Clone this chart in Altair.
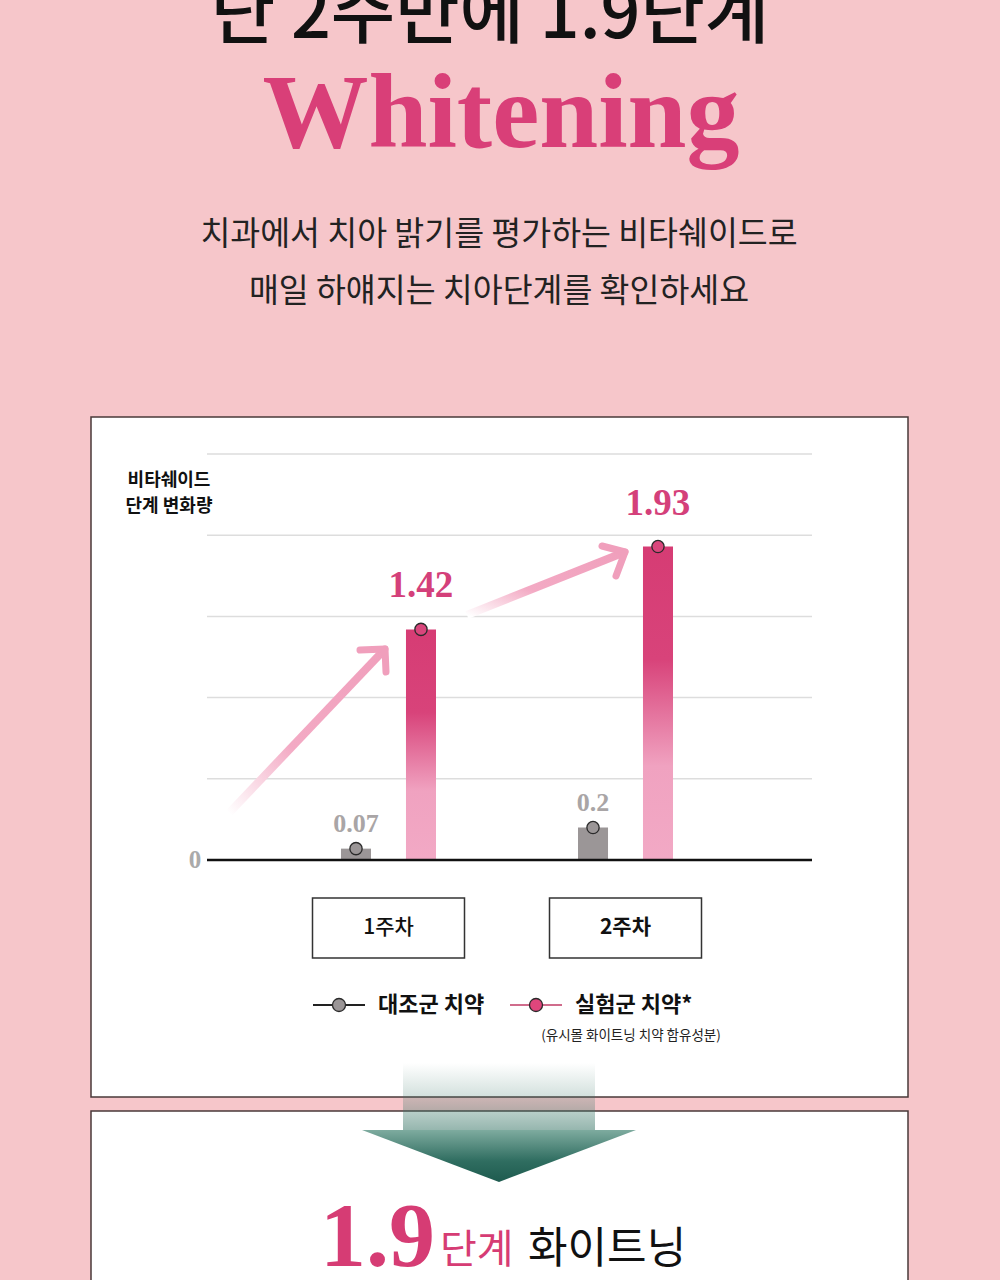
import altair as alt
import pandas as pd

# ---------------- data ----------------
weeks = ["1주차", "2주차"]
groups = ["대조군 치약", "실험군 치약"]
control_vals = [0.07, 0.2]
test_vals = [1.42, 1.93]
control_labels = ["0.07", "0.2"]
test_labels = ["1.42", "1.93"]
grid_vals = [0.5, 1.0, 1.5, 2.0, 2.5]
zero_val = [0]

title_top = "단 2주만에 1.9단계"
title_main = "Whitening"
sub_lines = ["치과에서 치아 밝기를 평가하는 비타쉐이드로", "매일 하얘지는 치아단계를 확인하세요"]
y_title = ["비타쉐이드", "단계 변화량"]
legend_note = "(유시몰 화이트닝 치약 함유성분)"
bottom_num = "1.9"
bottom_unit = "단계"
bottom_word = "화이트닝"

BG = "#f6c6ca"
PINK = "#d63c74"
KR = "Noto Sans CJK KR"
SERIF = "Liberation Serif"

bars = pd.DataFrame({
    "week": weeks * 2,
    "group": [groups[0]] * 2 + [groups[1]] * 2,
    "value": control_vals + test_vals,
    "label": control_labels + test_labels,
})
ctrl = bars[bars.group == groups[0]]
test = bars[bars.group == groups[1]]

yscale = alt.Scale(domain=[0, 2.5], range=[860, 454], nice=False)
xscale = alt.Scale(domain=weeks, range=[270, 744], paddingInner=0, paddingOuter=0)
xoff = alt.Scale(domain=groups, range=[71, 166], paddingInner=0.538, paddingOuter=0)

X = alt.X("week:N", scale=xscale, axis=None)
XO = alt.XOffset("group:N", scale=xoff)
Y = alt.Y("value:Q", scale=yscale, axis=None)

one = pd.DataFrame({"a": [0]})


def txt(text, x, y, **kw):
    return alt.Chart(pd.DataFrame({"t": [text]})).mark_text(**kw).encode(
        text="t:N", x=alt.value(x), y=alt.value(y))


def rect(x, x2, y, y2, **kw):
    return alt.Chart(one).mark_rect(**kw).encode(
        x=alt.value(x), x2=alt.value(x2), y=alt.value(y), y2=alt.value(y2))


def rule(x, y, x2, y2, **kw):
    return alt.Chart(one).mark_rule(**kw).encode(
        x=alt.value(x), x2=alt.value(x2), y=alt.value(y), y2=alt.value(y2))


def dot(x, y, **kw):
    return alt.Chart(one).mark_circle(**kw).encode(x=alt.value(x), y=alt.value(y))


layers = []

# header texts
layers.append(txt(title_top, 490, 38, font=KR, fontSize=70, fontWeight=500, color="#111111",
                  align="center", baseline="alphabetic"))
layers.append(txt(title_main, 501, 147, font=SERIF, fontSize=106, fontWeight="bold", color="#d93f78",
                  align="center", baseline="alphabetic"))
layers.append(txt(sub_lines[0], 499, 245, font=KR, fontSize=32.5, fontWeight=400, color="#222222",
                  align="center", baseline="alphabetic"))
layers.append(txt(sub_lines[1], 499, 302, font=KR, fontSize=32.5, fontWeight=400, color="#222222",
                  align="center", baseline="alphabetic"))

# panels
BORDER = "#4a3a3a"
layers.append(rect(91, 908, 417, 1097, fill="white", stroke=BORDER, strokeWidth=1.5))
layers.append(rect(91, 908, 1111, 1300, fill="white", stroke=BORDER, strokeWidth=1.5))

# grid lines
layers.append(alt.Chart(pd.DataFrame({"value": grid_vals})).mark_rule(
    color="#dddddd", strokeWidth=1.5).encode(y=Y, x=alt.value(207), x2=alt.value(812)))

# arrows
shaft_grad = alt.LinearGradient(
    gradient="linear",
    stops=[alt.GradientStop(color="#ffffff", offset=0),
           alt.GradientStop(color="#f3aac4", offset=0.4),
           alt.GradientStop(color="#f09fbc", offset=1)],
    x1=0, y1=1, x2=1, y2=0)
AR = "#f09fbc"
for (tx, ty, hx, hy, a1x, a1y, a2x, a2y) in [
        (229, 813, 385, 649, 360, 650, 386, 672),
        (467, 615, 625, 552, 602, 546, 616, 576)]:
    layers.append(rule(tx, ty, hx, hy, stroke=shaft_grad, strokeWidth=8))
    layers.append(rule(hx, hy, a1x, a1y, color=AR, strokeWidth=7, strokeCap="round"))
    layers.append(rule(hx, hy, a2x, a2y, color=AR, strokeWidth=7, strokeCap="round"))

# bars
bar_grad = alt.LinearGradient(
    gradient="linear",
    stops=[alt.GradientStop(color="#d63c74", offset=0),
           alt.GradientStop(color="#d8437a", offset=0.36),
           alt.GradientStop(color="#f0a2c0", offset=0.7),
           alt.GradientStop(color="#f2a9c5", offset=1)],
    x1=0, y1=0, x2=0, y2=1)
layers.append(alt.Chart(ctrl).mark_bar(color="#9b9697").encode(x=X, xOffset=XO, y=Y))
layers.append(alt.Chart(test).mark_bar(fill=bar_grad).encode(x=X, xOffset=XO, y=Y))

# baseline
layers.append(alt.Chart(pd.DataFrame({"value": zero_val})).mark_rule(
    color="#111111", strokeWidth=2.5).encode(y=Y, x=alt.value(207), x2=alt.value(812)))

# points
layers.append(alt.Chart(ctrl).mark_circle(size=150, opacity=1, fill="#9b9697", stroke="#2a2a2a",
                                          strokeWidth=1.3).encode(x=X, xOffset=XO, y=Y))
layers.append(alt.Chart(test).mark_circle(size=150, opacity=1, fill="#d9467c", stroke="#2a2a2a",
                                          strokeWidth=1.3).encode(x=X, xOffset=XO, y=Y))

# value labels
layers.append(alt.Chart(ctrl).mark_text(font=SERIF, fontSize=26, fontWeight="bold", color="#a9a5a6",
                                        baseline="alphabetic", dy=-17).encode(
    x=X, xOffset=XO, y=Y, text="label:N"))
layers.append(alt.Chart(test).mark_text(font=SERIF, fontSize=37, fontWeight="bold", color="#d4407a",
                                        baseline="alphabetic", dy=-32).encode(
    x=X, xOffset=XO, y=Y, text="label:N"))

# axis texts
layers.append(txt("0", 195, 860, font=SERIF, fontSize=25, fontWeight="bold", color="#aaaaaa",
                  align="center", baseline="middle"))
layers.append(txt(y_title[0], 169, 481, font=KR, fontSize=18, fontWeight=700, color="#111111",
                  align="center", baseline="middle"))
layers.append(txt(y_title[1], 169, 507, font=KR, fontSize=18, fontWeight=700, color="#111111",
                  align="center", baseline="middle"))

# week boxes + labels
wk = pd.DataFrame({"week": weeks})
layers.append(alt.Chart(wk).mark_bar(width=152, fill="white", stroke="#333333", strokeWidth=1.5).encode(
    x=X, y=alt.value(898), y2=alt.value(958)))
layers.append(alt.Chart(wk.iloc[[0]]).mark_text(font=KR, fontSize=21, fontWeight=500, color="#111111",
                                                baseline="middle").encode(
    x=X, y=alt.value(928), text="week:N"))
layers.append(alt.Chart(wk.iloc[[1]]).mark_text(font=KR, fontSize=21, fontWeight=700, color="#111111",
                                                baseline="middle").encode(
    x=X, y=alt.value(928), text="week:N"))

# legend
layers.append(rule(313, 1005, 365, 1005, color="#222222", strokeWidth=2))
layers.append(dot(339, 1005, size=170, opacity=1, fill="#9b9697", stroke="#2a2a2a", strokeWidth=1.3))
layers.append(txt(groups[0], 378, 1005, font=KR, fontSize=22, fontWeight=700, color="#111111",
                  align="left", baseline="middle"))
layers.append(rule(510, 1005, 562, 1005, color="#d06c8c", strokeWidth=2))
layers.append(dot(536, 1005, size=170, opacity=1, fill="#e0467c", stroke="#2a2a2a", strokeWidth=1.3))
layers.append(txt(groups[1] + "*", 575, 1005, font=KR, fontSize=22, fontWeight=700, color="#111111",
                  align="left", baseline="middle"))
layers.append(txt(legend_note, 631, 1036, font=KR, fontSize=13.5, color="#222222",
                  align="center", baseline="middle"))

# teal down arrow
stem_grad = alt.LinearGradient(
    gradient="linear",
    stops=[alt.GradientStop(color="rgba(60,120,105,0)", offset=0),
           alt.GradientStop(color="rgba(60,120,105,0.25)", offset=0.55),
           alt.GradientStop(color="rgba(60,120,105,0.55)", offset=1)],
    x1=0, y1=0, x2=0, y2=1)
head_grad = alt.LinearGradient(
    gradient="linear",
    stops=[alt.GradientStop(color="#7eab9f", offset=0),
           alt.GradientStop(color="#2f6d60", offset=0.6),
           alt.GradientStop(color="#1e5b4f", offset=1)],
    x1=0, y1=0, x2=0, y2=1)
layers.append(rect(403, 595, 1063, 1131, fill=stem_grad))
layers.append(alt.Chart(one).mark_point(
    shape="M -1 -0.19 L 1 -0.19 L 0 0.19 Z", size=274 * 274, filled=True, opacity=1,
    fill=head_grad, strokeWidth=0).encode(x=alt.value(499), y=alt.value(1156)))

# bottom headline
layers.append(txt(bottom_num, 320, 1266, font=SERIF, fontSize=92, fontWeight="bold", color=PINK,
                  align="left", baseline="alphabetic"))
layers.append(txt(bottom_unit, 440, 1263, font=KR, fontSize=40, fontWeight=400, color=PINK,
                  align="left", baseline="alphabetic"))
layers.append(txt(bottom_word, 528, 1263, font=KR, fontSize=43, fontWeight=400, color="#111111",
                  align="left", baseline="alphabetic"))

chart = alt.layer(*layers).properties(
    width=1000, height=1280, background=BG, padding=0,
    autosize=alt.AutoSizeParams(type="none"),
).configure_view(stroke=None)

chart.save("out.html", embed_options={"renderer": "svg", "actions": False})
